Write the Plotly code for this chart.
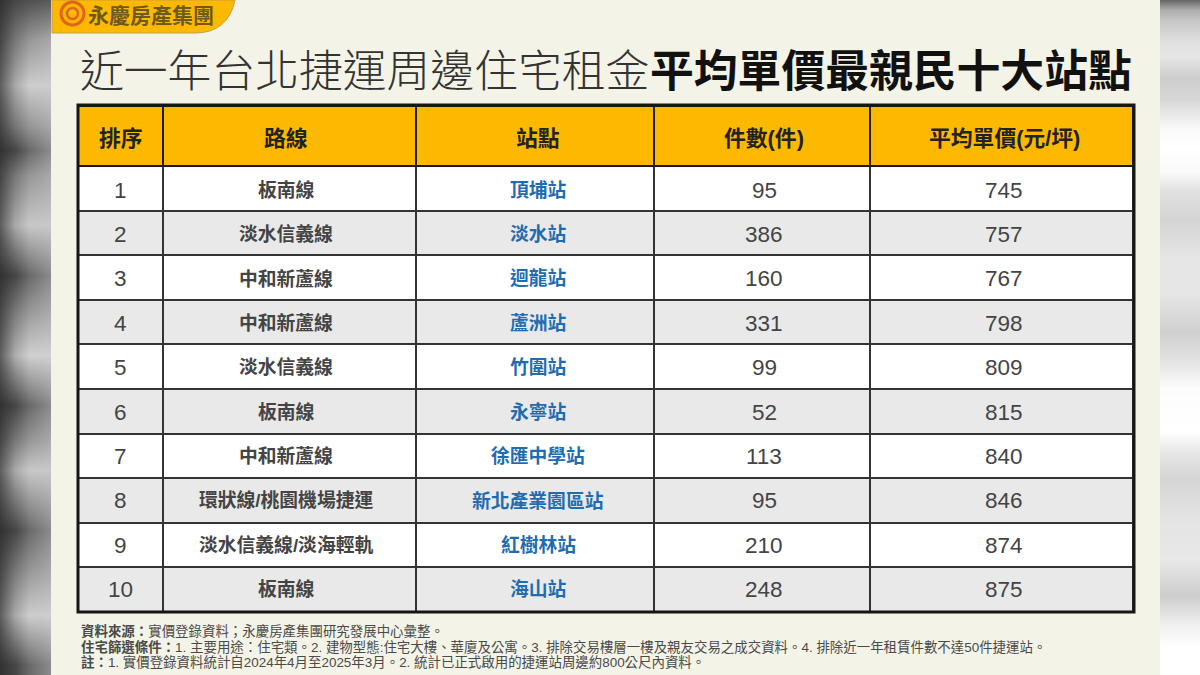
import plotly.graph_objects as go

FONT = "Noto Sans CJK TC"
TABLE_FONT = "Liberation Sans, Noto Sans CJK TC"
headers = ["排序", "路線", "站點", "件數(件)", "平均單價(元/坪)"]
ranks = [1, 2, 3, 4, 5, 6, 7, 8, 9, 10]
lines = ["板南線", "淡水信義線", "中和新蘆線", "中和新蘆線", "淡水信義線", "板南線", "中和新蘆線",
         "環狀線/桃園機場捷運", "淡水信義線/淡海輕軌", "板南線"]
stations = ["頂埔站", "淡水站", "迴龍站", "蘆洲站", "竹圍站", "永寧站", "徐匯中學站", "新北產業園區站", "紅樹林站", "海山站"]
counts = [95, 386, 160, 331, 99, 52, 113, 95, 210, 248]
prices = [745, 757, 767, 798, 809, 815, 840, 846, 874, 875]
col_px = [85, 253, 239, 216, 263]
row_fill = ["#ffffff", "#e9e9e9"]
notes = ["<b>資料來源：</b>實價登錄資料；永慶房產集團研究發展中心彙整。",
         "<b>住宅篩選條件：</b>1. 主要用途：住宅類。2. 建物型態:住宅大樓、華廈及公寓。3. 排除交易樓層一樓及親友交易之成交資料。4. 排除近一年租賃件數不達50件捷運站。",
         "<b>註：</b>1. 實價登錄資料統計自2024年4月至2025年3月。2. 統計已正式啟用的捷運站周邊約800公尺內資料。"]

# blurred side strips: grey levels
left_y = [0, 40, 85, 125, 150, 175, 225, 275, 310, 355, 405, 440, 470, 530, 570, 615, 665, 675]
left_x = [0, 15, 30, 52]
left_z = [[50, 70, 80, 90], [70, 120, 150, 170], [95, 170, 205, 205], [70, 120, 150, 170], [50, 70, 105, 140],
          [70, 120, 150, 170], [95, 170, 200, 200], [50, 70, 105, 140], [70, 120, 150, 170], [95, 175, 208, 208],
          [50, 70, 105, 140], [70, 120, 150, 170], [95, 170, 200, 200], [50, 70, 105, 140], [70, 120, 150, 170],
          [95, 170, 205, 205], [50, 70, 105, 140], [50, 70, 105, 140]]
right_y = [0, 9, 21, 43, 56, 78, 99, 129, 147, 172, 190, 220, 259, 293, 332, 358, 388, 431, 453, 478, 517, 560, 595, 625, 647, 675]
right_z = [105, 170, 200, 225, 230, 205, 215, 250, 255, 250, 225, 212, 230, 230, 208, 225, 252, 255, 230, 213, 228, 232, 205, 240, 255, 255]
grey = [[0, "#000000"], [1, "#ffffff"]]

fills = [[row_fill[i % 2] for i in range(len(ranks))]] * 5
blank = [""] * len(ranks)
fig = go.Figure()
fig.add_trace(go.Heatmap(x=left_x, y=left_y, z=left_z, zmin=0, zmax=255, colorscale=grey, zsmooth="best",
                         showscale=False, hoverinfo="skip", xaxis="x", yaxis="y"))
fig.add_trace(go.Heatmap(x=[1160, 1200], y=right_y, z=[[v, v] for v in right_z], zmin=0, zmax=255, colorscale=grey,
                         zsmooth="best", showscale=False, hoverinfo="skip", xaxis="x2", yaxis="y2"))
# the grid itself
fig.add_trace(go.Table(
    domain=dict(x=[78/1200, 1134/1200], y=[1-612.5/675, 1-106/675]),
    columnwidth=col_px,
    header=dict(values=[""] * 5, height=60, fill_color="#fcb900", line=dict(color="#1c1c1c", width=2)),
    cells=dict(values=[blank] * 5, height=44.6, fill_color=fills, line=dict(color="#333333", width=2)),
))
# axis that counts rows (rank 1 at 190px, 44.4px per row); holds the cell text
PX_PER_ROW = 44.4
row_range = [1 + (675 - 190) / PX_PER_ROW, 1 - 190 / PX_PER_ROW]
HEADER_ROW = 1 - (190 - 138) / PX_PER_ROW
col_x = [120.5, 286, 538, 764, 1004]
fig.add_trace(go.Scatter(x=[col_x[0]] * len(ranks), y=ranks, mode="markers", marker=dict(opacity=0), hoverinfo="skip",
                         xaxis="x3", yaxis="y3", showlegend=False))

columns = [
    ([str(v) for v in ranks], 22.5, "#444444", False),
    (lines, 18.8, "#444444", True),
    (stations, 18.8, "#1f6db0", True),
    ([str(v) for v in counts], 22.5, "#444444", False),
    ([str(v) for v in prices], 22.5, "#444444", False),
]

shapes = []
# logo tab
shapes.append(dict(type="path", xref="paper", yref="paper", layer="below", fillcolor="#fcb900",
                   line=dict(color="#c9a040", width=1),
                   path=f"M {52/1200} 1 L {235/1200} 1 Q {228/1200} {1-33/675} {195/1200} {1-33/675} L {52/1200} {1-33/675} Z"))
# logo ring
shapes.append(dict(type="circle", xref="paper", yref="paper", x0=61/1200, x1=84/1200, y0=1-25/675, y1=1-2/675,
                   line=dict(color="#e0641e", width=3)))
shapes.append(dict(type="circle", xref="paper", yref="paper", x0=67/1200, x1=78/1200, y0=1-19/675, y1=1-8/675,
                   line=dict(color="#e0641e", width=2.5)))
# outer table border
shapes.append(dict(type="rect", xref="paper", yref="paper", x0=78/1200, x1=1134/1200, y0=1-612/675, y1=1-105/675,
                   line=dict(color="#161616", width=3)))

def txt(x, y, s, size, color, anchor="left", weight=None, family=FONT):
    return dict(xref="paper", yref="paper", x=x/1200, y=1-y/675, text=s, showarrow=False, xanchor=anchor,
                yanchor="middle", align=anchor, font=dict(family=family, size=size, color=color, weight=weight))

def cell(x, y, s, size, color):
    return dict(xref="x3", yref="y3", x=x, y=y, text=s, showarrow=False, xanchor="center", yanchor="middle",
                font=dict(family=TABLE_FONT, size=size, color=color))

ann = [txt(86, 14, "永慶房產集團", 21, "#6e5a1e", weight=700),
       txt(78, 68, "近一年台北捷運周邊住宅租金", 43.8, "#333333", weight=300),
       txt(648, 68, "<b>平均單價最親民十大站點</b>", 43.8, "#111111")]
for y, s in zip([631, 647, 662], notes):
    ann.append(txt(79, y, s, 13.45, "#4a4a4a", family=TABLE_FONT))
for x, h, (vals, size, color, bold) in zip(col_x, headers, columns):
    ann.append(cell(x, HEADER_ROW, f"<b>{h}</b>", 21.8, "#222222"))
    for r, v in zip(ranks, vals):
        ann.append(cell(x, r, f"<b>{v}</b>" if bold else v, size, color))

hidden = dict(visible=False, fixedrange=True)
fig.update_layout(width=1200, height=675, margin=dict(l=0, r=0, t=0, b=0), paper_bgcolor="#f3f4e7",
                  plot_bgcolor="rgba(0,0,0,0)", shapes=shapes, annotations=ann, showlegend=False,
                  xaxis=dict(domain=[0, 51/1200], range=[0, 52], **hidden),
                  yaxis=dict(domain=[0, 1], range=[675, 0], **hidden),
                  xaxis2=dict(domain=[1160/1200, 1], range=[1160, 1200], anchor="y2", **hidden),
                  yaxis2=dict(domain=[0, 1], range=[675, 0], anchor="x2", **hidden),
                  xaxis3=dict(domain=[0, 1], range=[0, 1200], anchor="y3", **hidden),
                  yaxis3=dict(domain=[0, 1], range=row_range, anchor="x3", **hidden))
fig.write_html("out.html", config=dict(displayModeBar=False),
               post_script="document.documentElement.style.overflow='hidden';document.body.style.margin='0';")
